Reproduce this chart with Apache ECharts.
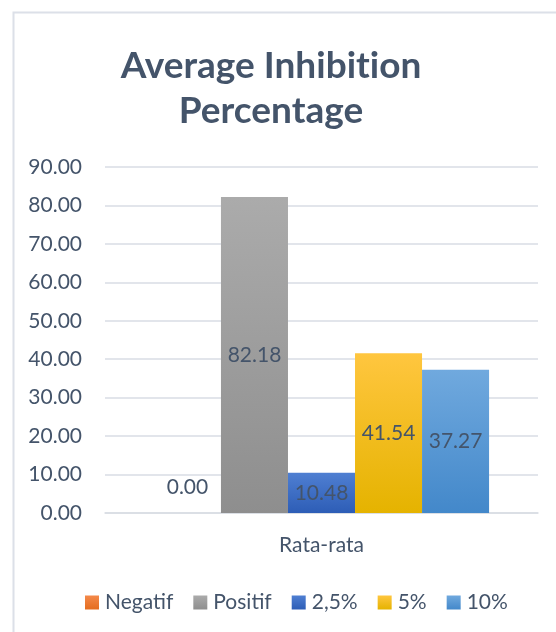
<!DOCTYPE html>
<html>
<head>
<meta charset="utf-8">
<script src="https://cdn.jsdelivr.net/npm/echarts@6/dist/echarts.min.js"></script>
<style>
html,body{margin:0;padding:0;background:#fff;}
#chart{width:556px;height:632px;}
</style>
</head>
<body>
<div id="chart"></div>
<script>
const titleText = 'Average Inhibit\u200Cion\nPercent\u200Cage';
const categories = ['Rata-rata'];
const seriesNames = ['Negatif', 'Positif', '2,5%', '5%', '10%'];
const negatifValues = [0.00];
const positifValues = [82.18];
const conc25Values = [10.48];
const conc5Values = [41.54];
const conc10Values = [37.27];
const yMin = 0, yMax = 90, yInterval = 10;

const textColor = '#44546A';
const font = 'Lato';

function grad(top, bottom) {
  return {type: 'linear', x: 0, y: 0, x2: 0, y2: 1,
    colorStops: [{offset: 0, color: top}, {offset: 1, color: bottom}]};
}
const colors = [
  grad('#F4894A', '#E46C1E'),
  grad('#ABABAB', '#8E8E8E'),
  grad('#4F7FD2', '#2D5DB6'),
  grad('#FFC63F', '#E5B300'),
  grad('#70A9DE', '#4388CA')
];
const dataSets = [negatifValues, positifValues, conc25Values, conc5Values, conc10Values];

const series = seriesNames.map((name, i) => ({
  name: name,
  type: 'bar',
  data: dataSets[i],
  barGap: '0%',
  barCategoryGap: '22.6%',
  itemStyle: {color: colors[i]},
  label: {
    show: true,
    position: i === 0 ? 'top' : 'inside',
    distance: 15,
    color: textColor,
    fontFamily: font,
    fontSize: 21,
    formatter: p => p.value.toFixed(2)
  },
  emphasis: {disabled: true}
}));

const chart = echarts.init(document.getElementById('chart'), null, {renderer: 'canvas'});
chart.setOption({
  animation: false,
  backgroundColor: '#fff',
  graphic: [{
    type: 'rect', left: 11, top: 10, silent: true,
    shape: {x: 0, y: 0, width: 600, height: 700},
    style: {fill: 'none', stroke: '#DCE0E8', lineWidth: 2}
  }],
  title: {
    text: titleText,
    left: 266, top: 39, textAlign: 'center',
    textStyle: {color: textColor, fontFamily: font, fontWeight: 'bold', fontSize: 37, lineHeight: 45}
  },
  legend: {
    data: seriesNames,
    left: 80, top: 587,
    itemWidth: 14, itemHeight: 14, itemGap: 20,
    icon: 'rect',
    textStyle: {color: textColor, fontFamily: font, fontSize: 21, padding: [0, 0, 0, 1]}
  },
  grid: {left: 105, right: 18, top: 167, bottom: 119, containLabel: false},
  xAxis: {
    type: 'category',
    data: categories,
    axisLine: {show: true, lineStyle: {color: '#D9DDE4', width: 1.5}},
    axisTick: {show: false},
    axisLabel: {color: textColor, fontFamily: font, fontSize: 21, margin: 22}
  },
  yAxis: {
    type: 'value',
    min: yMin, max: yMax, interval: yInterval,
    axisLine: {show: false},
    axisTick: {show: false},
    splitLine: {lineStyle: {color: '#D9DDE4', width: 1.5}},
    axisLabel: {color: textColor, fontFamily: font, fontSize: 21, margin: 23,
      formatter: v => v.toFixed(2)}
  },
  series: series
});
</script>
</body>
</html>
